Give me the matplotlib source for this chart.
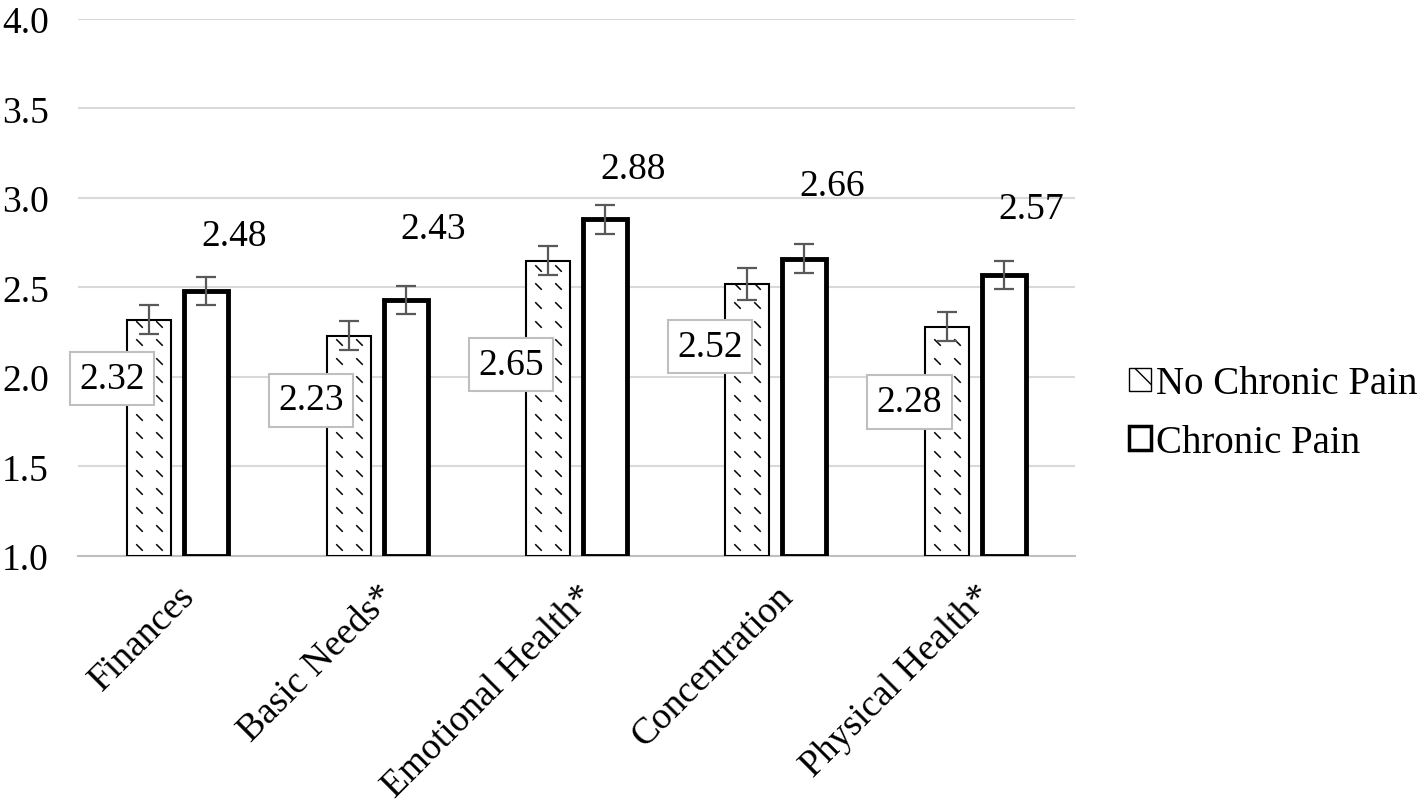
import matplotlib
matplotlib.use("Agg")
import matplotlib.pyplot as plt
import numpy as np
from matplotlib.patches import Patch
from matplotlib.path import Path

categories = ["Finances", "Basic Needs*", "Emotional Health*", "Concentration", "Physical Health*"]
no_pain = [2.32, 2.23, 2.65, 2.52, 2.28]
no_pain_err = [0.08, 0.08, 0.08, 0.09, 0.08]
pain = [2.48, 2.43, 2.88, 2.66, 2.57]
pain_err = [0.08, 0.08, 0.08, 0.08, 0.08]
series_names = ["No Chronic Pain", "Chronic Pain"]

# label placement (style only)
pain_label_dy = [0.31, 0.40, 0.28, 0.41, 0.37]
no_pain_label_y = [1.99, 1.87, 2.07, 2.17, 1.86]

plt.rcParams['font.family'] = ['Liberation Serif', 'DejaVu Serif']
plt.rcParams['hatch.linewidth'] = 1.0

fig = plt.figure(figsize=(14.21, 8.12), dpi=100)
ax = fig.add_axes([0.0549, 0.314, 0.7016, 0.6616])

x = np.arange(len(categories))
w = 0.22
off = 0.143
base = 1.0

b1 = ax.bar(x - off, np.array(no_pain) - base, w, bottom=base, color='white',
            edgecolor='black', linewidth=1.5, zorder=3)
b2 = ax.bar(x + off, np.array(pain) - base, w, bottom=base, color='white',
            edgecolor='black', linewidth=3.5, zorder=3)

# dashed-diagonal pattern inside the "No Chronic Pain" bars
dash = Path([[-1, 1], [1, -1]], [Path.MOVETO, Path.LINETO])
for rect in b1:
    x0 = rect.get_x() + rect.get_width() / 2
    top = rect.get_y() + rect.get_height()
    ys = np.arange(base + 0.05, top, 0.104)
    for dx in (-0.05, 0.05):
        sc = ax.scatter(np.full(len(ys), x0 + dx), ys, marker=dash, s=22,
                        color='black', linewidths=1.1, zorder=3.5)
        sc.set_clip_path(rect)

ax.errorbar(x - off, no_pain, yerr=no_pain_err, fmt='none', ecolor='#595959',
            elinewidth=1.6, capsize=7, capthick=1.6, zorder=4)
ax.errorbar(x + off, pain, yerr=pain_err, fmt='none', ecolor='#595959',
            elinewidth=1.6, capsize=7, capthick=1.6, zorder=4)

for i, v in enumerate(pain):
    ax.text(x[i] + off + 0.14, v + pain_label_dy[i], f"{v:.2f}", fontsize=27,
            ha='center', va='center', zorder=5)
for i, v in enumerate(no_pain):
    ax.text(x[i] - 0.33, no_pain_label_y[i], f"{v:.2f}", fontsize=27,
            ha='center', va='center', zorder=5,
            bbox=dict(boxstyle='square,pad=0.25', facecolor='white', edgecolor='#bfbfbf', linewidth=1.5))

ax.set_xlim(-0.5, len(categories) - 0.5)
ax.set_ylim(1.0, 4.0)
ax.set_yticks(np.arange(1.0, 4.01, 0.5))
ax.set_yticklabels([f"{t:.1f}" for t in np.arange(1.0, 4.01, 0.5)], fontsize=27)
ax.yaxis.grid(True, color='#d9d9d9', linewidth=1.5, zorder=0)
ax.set_axisbelow(True)
for s in ['top', 'right', 'left']:
    ax.spines[s].set_visible(False)
ax.spines['bottom'].set_color('#bfbfbf')
ax.spines['bottom'].set_linewidth(1.5)
ax.tick_params(axis='y', length=0, pad=21)
ax.tick_params(axis='x', length=0, pad=16)
ax.set_xticks(x)
ax.set_xticklabels(categories, fontsize=27, rotation=45, ha='right', rotation_mode='anchor')

handles = [Patch(facecolor='white', edgecolor='black', hatch='\\', linewidth=1.0),
           Patch(facecolor='white', edgecolor='black', linewidth=2.5)]
fig.legend(handles, series_names, loc='center left', bbox_to_anchor=(0.77, 0.49),
           frameon=False, fontsize=28, handlelength=0.55, handleheight=0.55,
           handletextpad=0.15, labelspacing=0.55)

fig.savefig("out.png", dpi=100)
